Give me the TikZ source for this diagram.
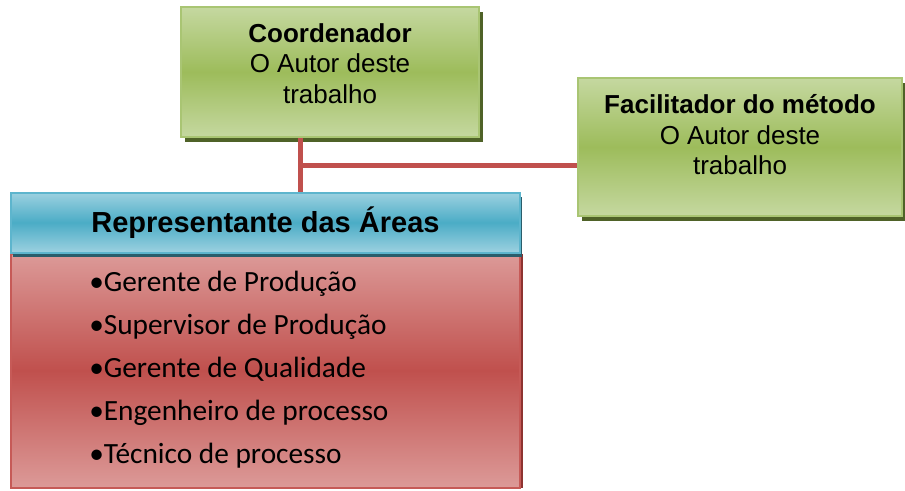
\documentclass[tikz,border=0pt]{standalone}
\usepackage{fontspec}
\setmainfont{Liberation Sans}
\newfontfamily\listfont{Carlito}
\usetikzlibrary{positioning,shadows}

\definecolor{greenlight}{HTML}{C5D8A0}
\definecolor{greenmid}{HTML}{9DBC5B}
\definecolor{greenedge}{HTML}{A9C573}
\definecolor{greenshade}{HTML}{4F6228}
\definecolor{bluelight}{HTML}{9CD1E0}
\definecolor{bluemid}{HTML}{4BACC6}
\definecolor{blueedge}{HTML}{5DB5CD}
\definecolor{blueshade}{HTML}{2A5D6B}
\definecolor{redlight}{HTML}{DC9A98}
\definecolor{redmid}{HTML}{C0504D}
\definecolor{rededge}{HTML}{C65A57}
\definecolor{redshade}{HTML}{8E3331}

\tikzset{
  greenbox/.style={rectangle, draw=greenedge, line width=1.5pt,
    top color=greenlight, bottom color=greenlight, middle color=greenmid,
    drop shadow={shadow xshift=3pt, shadow yshift=-3.75pt, fill=greenshade, opacity=1}},
  headtext/.style={inner sep=0pt, align=center, font=\fontsize{19.5}{23}\selectfont},
  link/.style={draw=redmid, line width=3.75pt}
}

\begin{document}
\begin{tikzpicture}[x=0.75pt,y=-0.75pt]
	\useasboundingbox (0,0) rectangle (905,490);

	%representantes
	\node[rectangle, draw=rededge, line width=1.5pt, minimum width=509*0.75pt, minimum height=234*0.75pt,
		top color=redlight, bottom color=redlight, middle color=redmid,
		drop shadow={shadow xshift=2pt, shadow yshift=0pt, fill=redshade, opacity=1}] (body) at (265.5,370.5) {};
	\node[rectangle, draw=blueedge, line width=1.5pt, minimum width=509*0.75pt, minimum height=60*0.75pt,
		top color=bluelight, bottom color=bluelight, middle color=bluemid,
		drop shadow={shadow xshift=1.5pt, shadow yshift=-3pt, fill=blueshade, opacity=1},
		font=\fontsize{21.75}{26}\selectfont\bfseries, text height=18pt, text depth=3pt] (areas) at (265.5,222.5) {Representante das Áreas};
	\node[anchor=north west, inner sep=0pt, align=left, font=\listfont\fontsize{22}{32.25}\selectfont] (list) at (89,271)
		{•Gerente de Produção\\•Supervisor de Produção\\•Gerente de Qualidade\\•Engenheiro de processo\\•Técnico de processo};

	%coordenador
	\node[greenbox, minimum width=298*0.75pt, minimum height=130*0.75pt] (coord) at (330,72) {};
	\node[headtext, anchor=north, yshift=-12.75pt] (coordtxt) at (coord.north) {\textbf{Coordenador}\\O Autor deste\\trabalho};

	%facilitador
	\node[greenbox, minimum width=324*0.75pt, minimum height=138*0.75pt] (facil) at (740,147) {};
	\node[headtext, anchor=north, yshift=-12.75pt] (faciltxt) at (facil.north) {\textbf{Facilitador do método}\\O Autor deste\\trabalho};

	%ligacoes
	\coordinate (junction) at (300,165);
	\draw[link] (coord.south -| junction) -- (areas.north -| junction);
	\draw[link] (junction) -- (facil.west |- junction);
\end{tikzpicture}
\end{document}
